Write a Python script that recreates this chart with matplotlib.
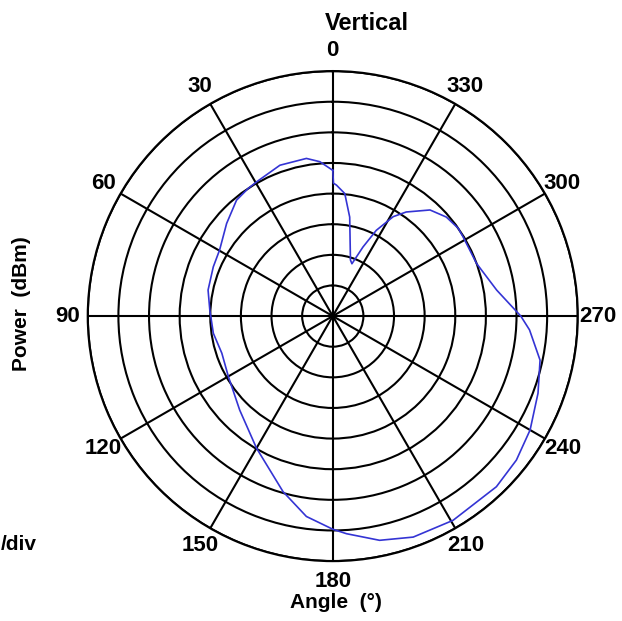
import numpy as np
import matplotlib
matplotlib.use("Agg")
from matplotlib import pyplot as plt
from matplotlib import font_manager

# 方向图数据（角度 / 功率 dBm），5 dB/div
angle_deg = [0, 4.8, 9.5, 19.3, 29.6, 33.6, 39.7, 48.9, 59.7, 67.6, 78.2, 87.2,
             98.2, 108.5, 120.1, 135.3, 150.0, 164.2, 172.5, 180, 183.6, 191.8,
             200, 210.5, 223.8, 231.9, 240, 249.4, 258, 266, 270, 279, 290.1,
             301.3, 305, 311.1, 317.5, 324.8, 328.7, 333.1, 336.4, 339.9, 342.5,
             350.3, 354.4, 358.4, 359.7, 360]
power_dbm = [-36.2, -34.7, -33.9, -33.9, -34.8, -35.0, -35.4, -37.0, -38.6, -38.9,
             -39.2, -39.9, -40.3, -40.9, -40.3, -38.4, -35.1, -30.2, -27.0, -25.2,
             -24.4, -22.6, -21.6, -21.3, -21.4, -21.9, -22.8, -24.2, -25.4, -27.8,
             -29.3, -32.9, -35.0, -35.1, -35.0, -35.4, -36.5, -39.2, -41.0, -44.3,
             -47.7, -50.9, -50.4, -43.6, -39.9, -38.6, -38.3, -36.2]

theta_ticks = [0, 30, 60, 90, 120, 150, 180, 210, 240, 270, 300, 330]
r_min, r_max, r_step = -60, -20, 5

names = {f.name for f in font_manager.fontManager.ttflist}
narrow = 'Liberation Sans Narrow' if 'Liberation Sans Narrow' in names else 'Liberation Sans'
plt.rcParams['font.family'] = ['Liberation Sans', 'DejaVu Sans']

fig = plt.figure(figsize=(6.22, 6.21), dpi=100)
ax = fig.add_axes([0.141, 0.0965, 0.788, 0.789], projection='polar')

ax.set_theta_zero_location('N')
ax.set_theta_direction(1)
ax.plot(np.radians(angle_deg), power_dbm, color='#3434d4', lw=1.2)

ax.set_ylim(r_min, r_max)
ax.set_yticks(np.arange(r_min + r_step, r_max + 1, r_step))
ax.set_yticklabels([])
ax.set_xticks(np.radians(theta_ticks))
ax.set_xticklabels([str(t) for t in theta_ticks], family=narrow,
                   fontweight='bold', fontsize=16)
ax.tick_params(axis='x', pad=4)
ax.grid(True, color='black', lw=1.5)
ax.spines['polar'].set_color('black')
ax.spines['polar'].set_linewidth(1.6)

fig.text(367 / 622, 1 - 24 / 621, 'Vertical', ha='center', va='center',
         fontsize=17, fontweight='bold')
fig.text(336 / 622, 1 - 603 / 621, 'Angle  (°)', ha='center', va='center',
         fontsize=15, fontweight='bold', family=[narrow, 'DejaVu Sans'])
fig.text(22 / 622, 1 - 304 / 621, 'Power  (dBm)', ha='center', va='center',
         rotation=90, fontsize=15, fontweight='bold')
# 左下角的刻度说明在原图中只露出 "/div"
fig.text(1 / 622, 1 - 545 / 621, '/div', ha='left', va='center',
         fontsize=15, fontweight='bold', family=[narrow, 'DejaVu Sans'])

plt.savefig('out.png')
